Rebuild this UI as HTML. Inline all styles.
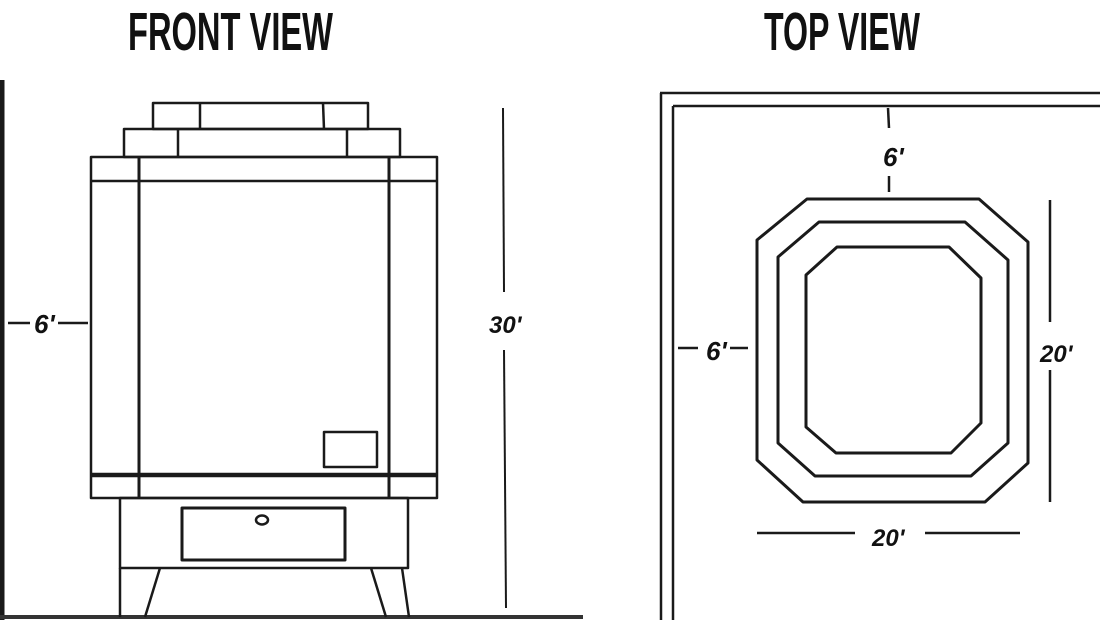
<!DOCTYPE html>
<html><head><meta charset="utf-8"><style>
html,body{margin:0;padding:0;background:#fff;width:1100px;height:620px;overflow:hidden}
svg{display:block}
text{font-family:"Liberation Sans",sans-serif;fill:#111}
</style></head><body>
<svg width="1100" height="620" viewBox="0 0 1100 620" xmlns="http://www.w3.org/2000/svg">
<g stroke="#1a1a1a" fill="none" stroke-width="2.5" stroke-linejoin="round">
<!-- titles -->
</g>
<text x="128" y="50" font-size="54" font-weight="bold" textLength="205" lengthAdjust="spacingAndGlyphs">FRONT VIEW</text>
<text x="764" y="50" font-size="54" font-weight="bold" textLength="156" lengthAdjust="spacingAndGlyphs">TOP VIEW</text>

<g stroke="#1a1a1a" fill="none" stroke-width="2.5" stroke-linejoin="round">
<!-- front view -->
<line x1="2" y1="80" x2="2" y2="620" stroke-width="5"/>
<line x1="0" y1="617" x2="583" y2="617" stroke-width="4" stroke="#333"/>
<rect x="153" y="103" width="215" height="26"/>
<line x1="200" y1="103" x2="200" y2="129"/>
<line x1="323" y1="103" x2="324" y2="129"/>
<rect x="124" y="129" width="276" height="28"/>
<line x1="178" y1="129" x2="178" y2="157"/>
<line x1="347" y1="129" x2="347" y2="157"/>
<rect x="91" y="157" width="346" height="341"/>
<line x1="91" y1="181" x2="437" y2="181"/>
<line x1="91" y1="475" x2="437" y2="475" stroke-width="4.5"/>
<line x1="139" y1="157" x2="139" y2="498" stroke-width="3"/>
<line x1="389" y1="157" x2="389" y2="498" stroke-width="3"/>
<rect x="324" y="432" width="53" height="35"/>
<rect x="120" y="498" width="288" height="70"/>
<rect x="182" y="508" width="163" height="52" stroke-width="3"/>
<ellipse cx="262" cy="520" rx="6" ry="4.5" stroke-width="2.5"/>
<line x1="120" y1="568" x2="120" y2="617"/>
<line x1="160" y1="568" x2="145" y2="617"/>
<line x1="371" y1="568" x2="386" y2="617"/>
<line x1="402" y1="568" x2="409" y2="617"/>
<!-- dims -->
<line x1="8" y1="323" x2="30" y2="323"/>
<line x1="58" y1="323" x2="88" y2="323"/>
<line x1="503" y1="108" x2="504" y2="292" stroke-width="2"/>
<line x1="504" y1="350" x2="506" y2="608" stroke-width="2"/>

<!-- top view -->
<line x1="660" y1="93" x2="1100" y2="93"/>
<line x1="673" y1="106" x2="1100" y2="106"/>
<line x1="661" y1="93" x2="661" y2="620"/>
<line x1="673" y1="106" x2="673" y2="620"/>
<line x1="888" y1="108" x2="889" y2="128"/>
<line x1="889" y1="176" x2="889" y2="192"/>
<line x1="678" y1="348" x2="698" y2="348"/>
<line x1="730" y1="348" x2="748" y2="348"/>
<line x1="1050" y1="200" x2="1050" y2="322"/>
<line x1="1050" y1="370" x2="1050" y2="502"/>
<line x1="757" y1="533" x2="855" y2="533"/>
<line x1="925" y1="533" x2="1020" y2="533"/>
<polygon points="807,199 979,199 1028,242 1028,463 985,502 803,502 757,460 757,240" stroke-width="3"/>
<polygon points="819,222 965,222 1008,260 1008,443 971,476 815,476 778,443 778,257" stroke-width="3"/>
<polygon points="837,247 949,247 981,278 981,423 951,453 836,453 806,427 806,275" stroke-width="3"/>
</g>
<g font-family="Liberation Serif,serif" font-weight="bold" font-style="italic">
<text x="34" y="333" font-size="26">6'</text>
<text x="489" y="333" font-size="24">30'</text>
<text x="883" y="166" font-size="26">6'</text>
<text x="706" y="360" font-size="26">6'</text>
<text x="1040" y="362" font-size="24">20'</text>
<text x="872" y="546" font-size="24">20'</text>
</g>
</svg>
</body></html>
